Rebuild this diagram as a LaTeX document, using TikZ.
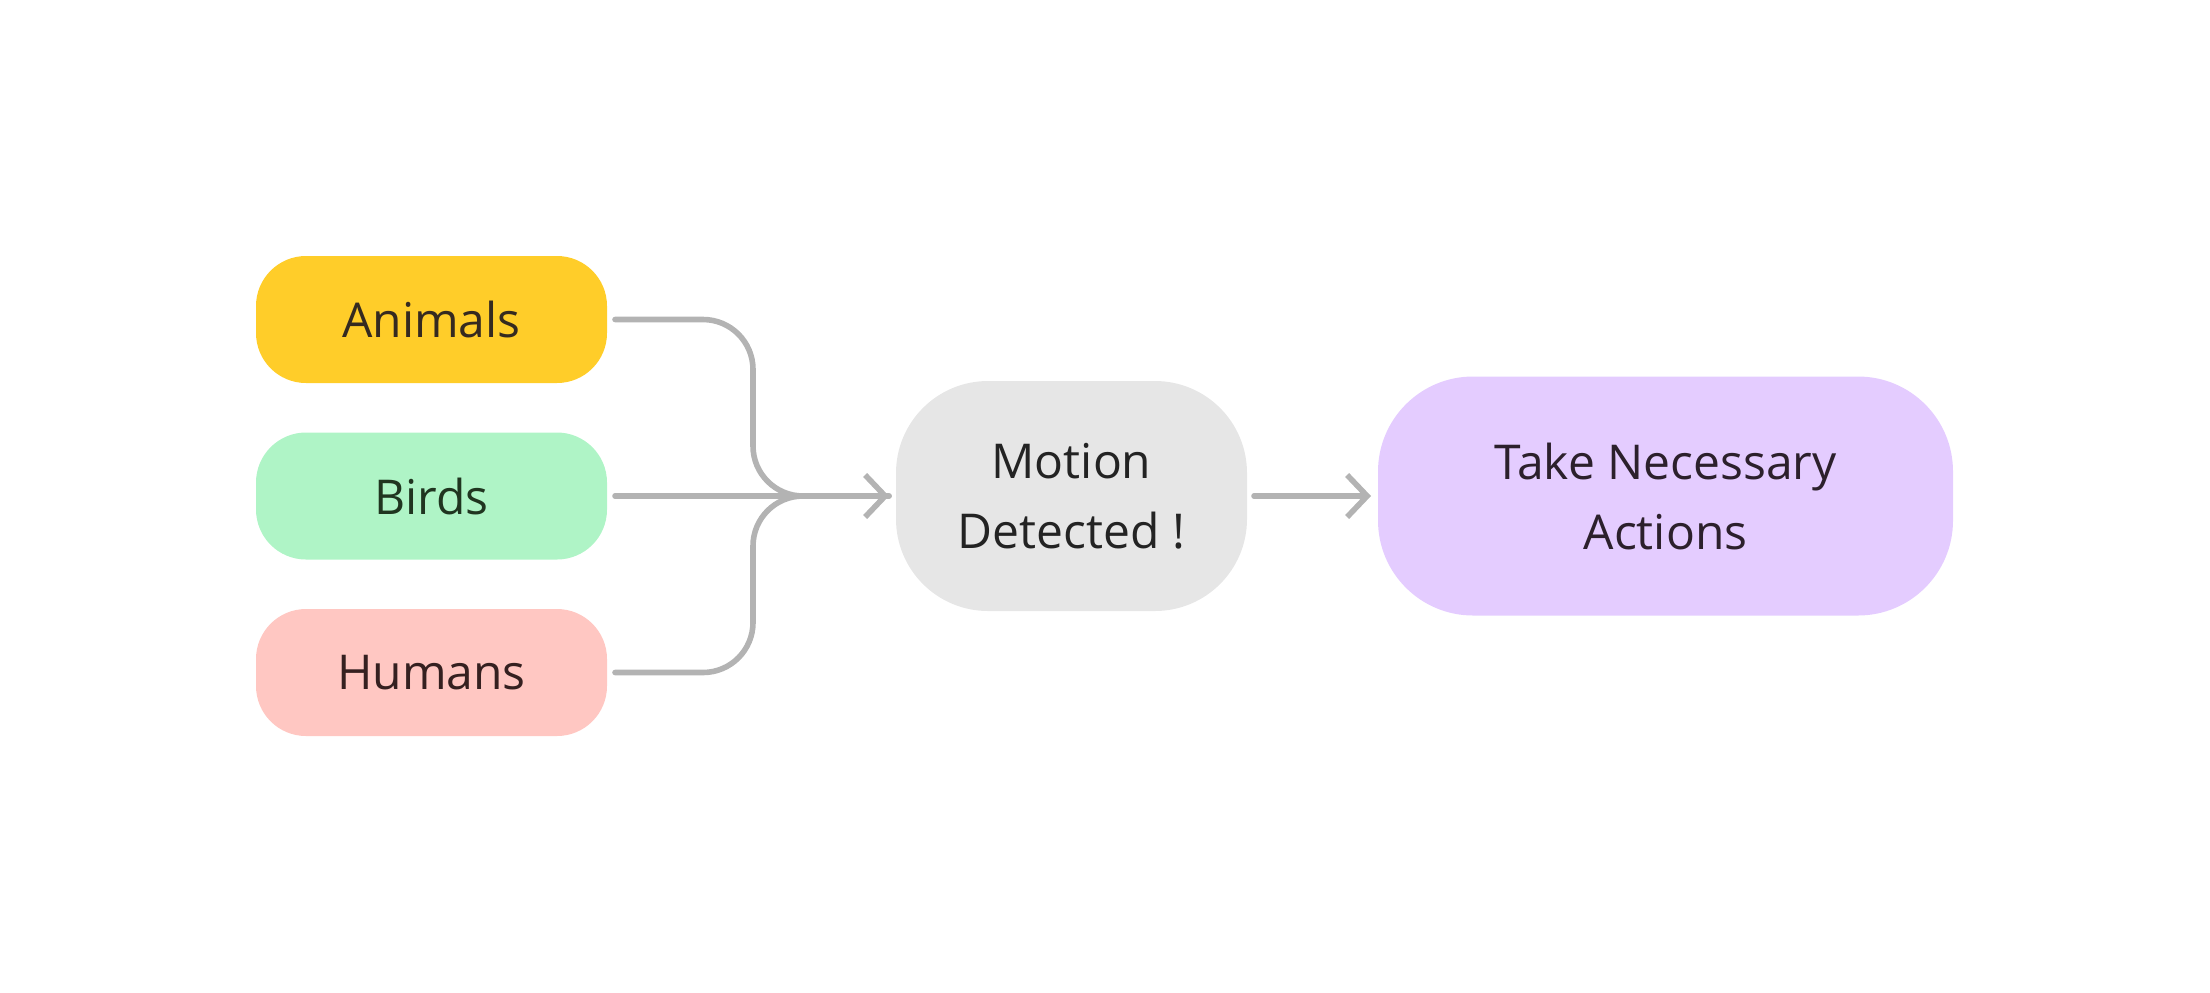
\documentclass[tikz,border=0pt]{standalone}
\usepackage{fontspec}
\setmainfont{Open Sans}
\usetikzlibrary{positioning, arrows.meta, calc}
\definecolor{animalfill}{HTML}{FFCD29}
\definecolor{birdfill}{HTML}{AFF4C6}
\definecolor{humanfill}{HTML}{FFC7C2}
\definecolor{motionfill}{HTML}{E6E6E6}
\definecolor{actionfill}{HTML}{E4CCFF}
\definecolor{linegray}{HTML}{B3B3B3}
\definecolor{inkdark}{HTML}{232323}
\tikzset{
  source/.style={rectangle, rounded corners=25pt, minimum width=175.5pt, minimum height=63.5pt, text centered, outer sep=4pt, font=\fontsize{24}{35}\selectfont},
  event/.style={rectangle, rounded corners=46pt, minimum width=175.5pt, minimum height=115pt, align=center, outer sep=3.5pt, fill=motionfill, text=inkdark, font=\fontsize{24}{35}\selectfont},
  result/.style={rectangle, rounded corners=47.5pt, minimum width=287.5pt, minimum height=119.5pt, align=center, outer sep=3.5pt, fill=actionfill, text=inkdark!90!violet, font=\fontsize{24}{35}\selectfont},
  link/.style={draw=linegray, line width=2.8pt, line cap=round, rounded corners=25pt},
  arrow/.style={link, -{Straight Barb[length=10pt, width=21pt, line width=2.8pt]}}
}
\begin{document}
\begin{tikzpicture}[x=0.5pt, y=-0.5pt]
  \useasboundingbox (0,0) rectangle (2210,992);
  \node (animals) [source, fill=animalfill, text=inkdark!92!orange] at (431.5,319.5) {Animals};
  \node (birds) [source, fill=birdfill, text=inkdark!92!green] at (431.5,496) {Birds};
  \node (humans) [source, fill=humanfill, text=inkdark!92!red] at (431.5,672.5) {Humans};
  \node (motion) [event] at (1071.5,496) {Motion\\Detected !};
  \node (actions) [result] at (1665.5,496) {Take Necessary\\Actions};

  \coordinate (merge) at (753,496);

  % the three inputs join before the arrow
  \draw [link] (animals.east) -| (merge) -- (motion.west);
  \draw [link] (humans.east) -| (merge) -- (motion.west);
  \draw [arrow] (birds.east) -- (motion.west);
  \draw [arrow] (motion.east) -- (actions.west);
\end{tikzpicture}
\end{document}
